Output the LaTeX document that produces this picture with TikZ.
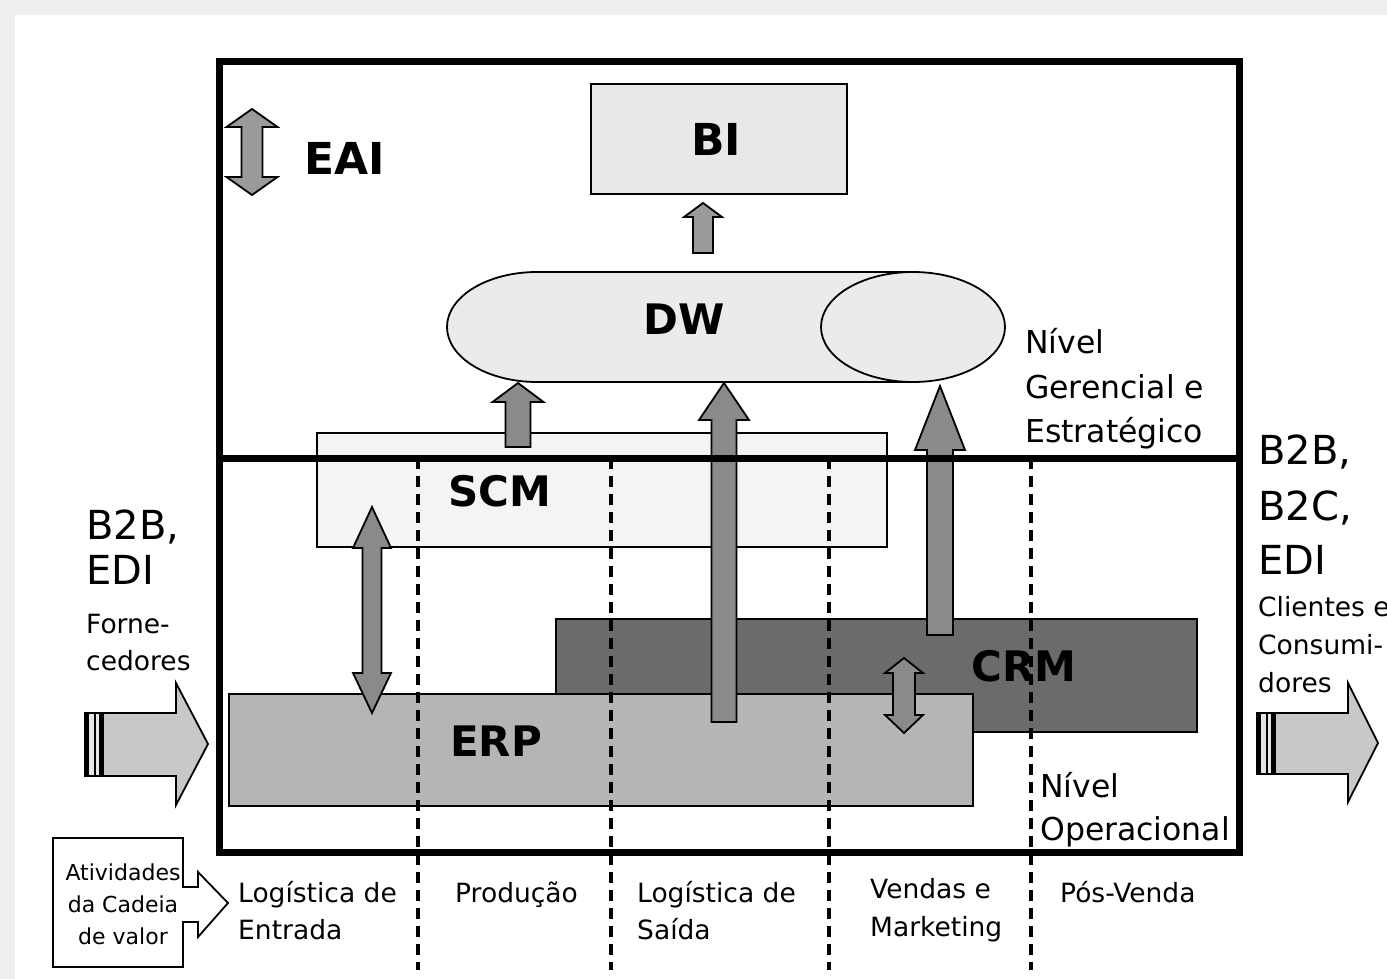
\documentclass[tikz,border=0pt]{standalone}
\usepackage{fontspec}
\setmainfont{DejaVu Sans}
\definecolor{bggray}{HTML}{EFEFEF}
\definecolor{bigray}{HTML}{E8E8E8}
\definecolor{dwgray}{HTML}{EBEBEB}
\definecolor{scmgray}{HTML}{F4F4F4}
\definecolor{erpgray}{HTML}{B5B5B5}
\definecolor{crmgray}{HTML}{6B6B6B}
\definecolor{arrgray}{HTML}{8A8A8A}
\definecolor{arrlight}{HTML}{9A9A9A}
\definecolor{fatgray}{HTML}{C8C8C8}
\definecolor{stripegray}{HTML}{E6E6E6}
% up block arrow: fill, cx, tip, headbase, bottom, half shaft, half head
\newcommand\blkup[7]{%
  \draw[arr,fill=#1] ({#2-#6},#5) -- ({#2-#6},#4) -- ({#2-#7},#4) -- (#2,#3)
    -- ({#2+#7},#4) -- ({#2+#6},#4) -- ({#2+#6},#5) -- cycle;}
% double block arrow: fill, cx, top tip, top base, bottom base, bottom tip, half shaft, half head
\newcommand\blkud[8]{%
  \draw[arr,fill=#1] (#2,#3) -- ({#2+#8},#4) -- ({#2+#7},#4) -- ({#2+#7},#5)
    -- ({#2+#8},#5) -- (#2,#6) -- ({#2-#8},#5) -- ({#2-#7},#5) -- ({#2-#7},#4)
    -- ({#2-#8},#4) -- cycle;}
% fat right arrow: x0, xhead, xtip, shaft top, shaft bottom, head top, head bottom, tip y
\newcommand\fatarr[8]{%
  \draw[arr,fill=fatgray] (#1,#4) -- (#2,#4) -- (#2,#6) -- (#3,#8) -- (#2,#7)
    -- (#2,#5) -- (#1,#5) -- cycle;
  \fill[stripegray] (#1,#4) rectangle ({#1+18.5},#5);
  \fill[black] (#1,#4) rectangle ({#1+3.5},#5);
  \fill[black] ({#1+8.5},#4) rectangle ({#1+10.5},#5);
  \fill[black] ({#1+14},#4) rectangle ({#1+18.5},#5);
  \draw[line width=1.8pt] (#1,#4) rectangle ({#1+18.5},#5);}
\begin{document}
\begin{tikzpicture}[x=1pt,y=-1pt,
  box/.style={draw=black,line width=1.8pt},
  arr/.style={draw=black,line width=1.8pt,line join=miter},
  frame/.style={line width=7pt},
  divline/.style={line width=4pt,dash pattern=on 11pt off 7pt},
  big/.style={inner sep=0pt,font=\fontsize{42}{46}\selectfont\bfseries},
  bigger/.style={inner sep=0pt,font=\fontsize{44}{48}\selectfont\bfseries},
  txt/.style={inner sep=0pt,anchor=base west,font=\fontsize{26.5}{30}\selectfont},
  lvl/.style={inner sep=0pt,anchor=base west,font=\fontsize{31.5}{36}\selectfont},
  btob/.style={inner sep=0pt,anchor=base west,font=\fontsize{40}{44}\selectfont},
  small/.style={inner sep=0pt,anchor=base,font=\fontsize{22}{26}\selectfont},
]
\useasboundingbox (0,0) rectangle (1387,979);
\fill[bggray] (0,0) rectangle (1387,979);
\fill[white] (15,15) rectangle (1387,979);

% BI
\draw[box,fill=bigray] (591,84) rectangle (847,194);
\node[bigger] (bi) at (716,139) {BI};
\blkup{arrlight}{703}{203}{217}{253}{10}{19}

% EAI
\blkud{arrlight}{252}{109}{127}{177}{195}{10.5}{25.5}
\node[bigger] (eai) at (345,158) {EAI};

% DW cylinder
\draw[box,fill=dwgray] (537,327) ellipse [x radius=90pt,y radius=55pt];
\fill[dwgray] (537,272) rectangle (913,382);
\draw[line width=1.8pt] (537,272) -- (913,272);
\draw[line width=1.8pt] (537,382) -- (913,382);
\draw[box,fill=dwgray] (913,327) ellipse [x radius=92pt,y radius=55pt];
\node[big] (dw) at (684,319) {DW};

% SCM
\draw[box,fill=scmgray] (317,433) rectangle (887,547);
\node[big] (scm) at (500,491) {SCM};

% CRM and ERP
\draw[box,fill=crmgray] (556,619) rectangle (1197,732);
\node[big] (crm) at (1024,666) {CRM};
\draw[box,fill=erpgray] (229,694) rectangle (973,806);
\node[big] (erp) at (496,741) {ERP};

% arrows
\blkup{arrgray}{518}{383}{402}{447}{12.5}{25.5}
\blkup{arrgray}{724}{383}{420}{722}{12.5}{25}
\blkup{arrgray}{940}{386}{450}{635}{13}{25}
\blkud{arrgray}{372}{507}{548}{673}{713}{9.5}{19}
\blkud{arrgray}{904}{658}{673}{715}{733}{11}{19}

% fat arrows
\fatarr{85}{176}{208}{713}{776}{683}{805}{744}
\fatarr{1257}{1348}{1378}{713}{774}{683}{802}{743}

% frame and dividers
\draw[divline] (418,458) -- (418,970);
\draw[divline] (611,458) -- (611,970);
\draw[divline] (829,458) -- (829,970);
\draw[divline] (1031,458) -- (1031,970);
\draw[frame] (219,62) rectangle (1239,852);
\draw[frame] (219,458) -- (1239,458);

% Atividades box
\draw[line width=1.8pt,fill=white] (53,838) -- (183,838) -- (183,887) -- (198,887)
  -- (198,872) -- (228,903) -- (198,937) -- (198,922) -- (183,922) -- (183,967)
  -- (53,967) -- cycle;
\node[small] (at1) at (123,880) {Atividades};
\node[small] (at2) at (123,912) {da Cadeia};
\node[small] (at3) at (123,944) {de valor};

% side texts
\node[btob] (l1) at (86,539) {B2B,};
\node[btob] (l2) at (86,584) {EDI};
\node[txt] (f1) at (86,633) {Forne-};
\node[txt] (f2) at (86,670) {cedores};
\node[btob] (r1) at (1258,464) {B2B,};
\node[btob] (r2) at (1258,520) {B2C,};
\node[btob] (r3) at (1258,574) {EDI};
\node[txt] (c1) at (1258,616) {Clientes e};
\node[txt] (c2) at (1258,654) {Consumi-};
\node[txt] (c3) at (1258,692) {dores};

\node[lvl] (g1) at (1025,353) {Nível};
\node[lvl] (g2) at (1025,398) {Gerencial e};
\node[lvl] (g3) at (1025,442) {Estratégico};
\node[lvl] (o1) at (1040,797) {Nível};
\node[lvl] (o2) at (1040,840) {Operacional};

% bottom labels
\node[txt] (b1) at (238,902) {Logística de};
\node[txt] (b2) at (238,939) {Entrada};
\node[txt] (b3) at (455,902) {Produção};
\node[txt] (b4) at (637,902) {Logística de};
\node[txt] (b5) at (637,939) {Saída};
\node[txt] (b6) at (870,898) {Vendas e};
\node[txt] (b7) at (870,936) {Marketing};
\node[txt] (b8) at (1060,902) {Pós-Venda};
\end{tikzpicture}
\end{document}
